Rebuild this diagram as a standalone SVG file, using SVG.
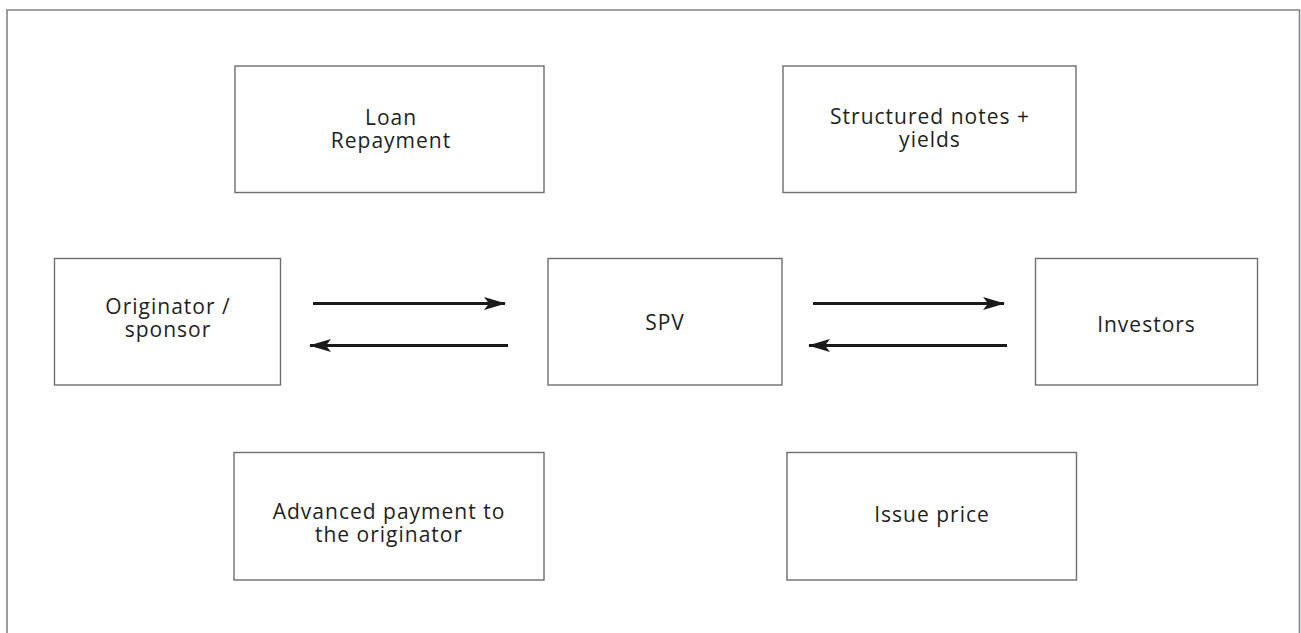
<svg xmlns="http://www.w3.org/2000/svg" width="1301" height="633" viewBox="0 0 1301 633">
<style>
.box{fill:#fff;stroke:#6d6e71;stroke-width:1.4}
.frame{fill:none;stroke:#808285;stroke-width:1.6}
.lbl{font-family:"Open Sans","Noto Sans","Liberation Sans",sans-serif;font-size:21px;letter-spacing:1px;fill:#231f20;text-anchor:middle}
.conn{stroke:#1a1a1a;stroke-width:2.8;fill:none}
</style>
<defs>
<marker id="ah" viewBox="0 0 22 13" refX="21" refY="6.5" markerWidth="22" markerHeight="13" markerUnits="userSpaceOnUse" orient="auto">
<path d="M0,0 L22,6.5 L0,13 L5,6.5 Z" fill="#1a1a1a"/>
</marker>
</defs>
<rect width="1301" height="633" fill="#fff"/>
<path class="frame" d="M7,640 L7,10 L1299.5,10 L1299.5,640"/>
<g id="loan"><rect class="box" x="235" y="66" width="309" height="126.5"/><text class="lbl" x="391" y="125">Loan<tspan x="391" dy="23">Repayment</tspan></text></g>
<g id="notes"><rect class="box" x="783" y="66" width="293" height="126.5"/><text class="lbl" x="930" y="124">Structured notes +<tspan x="930" dy="23">yields</tspan></text></g>
<g id="originator"><rect class="box" x="54.5" y="258.5" width="226" height="126.5"/><text class="lbl" x="168" y="314">Originator /<tspan x="168" dy="23">sponsor</tspan></text></g>
<g id="spv"><rect class="box" x="548" y="258.5" width="234" height="126.5"/><text class="lbl" x="665" y="330">SPV</text></g>
<g id="investors"><rect class="box" x="1035.5" y="258.5" width="222" height="126.5"/><text class="lbl" x="1146.5" y="332">Investors</text></g>
<g id="advanced"><rect class="box" x="234" y="452.5" width="310" height="127.5"/><text class="lbl" x="389" y="519">Advanced payment to<tspan x="389" dy="23">the originator</tspan></text></g>
<g id="issue"><rect class="box" x="787" y="452.5" width="289.5" height="127.5"/><text class="lbl" x="932" y="522">Issue price</text></g>
<g id="connectors">
<line class="conn" x1="313" y1="303.5" x2="505" y2="303.5" marker-end="url(#ah)"/>
<line class="conn" x1="508" y1="345.5" x2="310" y2="345.5" marker-end="url(#ah)"/>
<line class="conn" x1="813" y1="303.5" x2="1004" y2="303.5" marker-end="url(#ah)"/>
<line class="conn" x1="1007" y1="345.5" x2="809" y2="345.5" marker-end="url(#ah)"/>
</g>
</svg>
